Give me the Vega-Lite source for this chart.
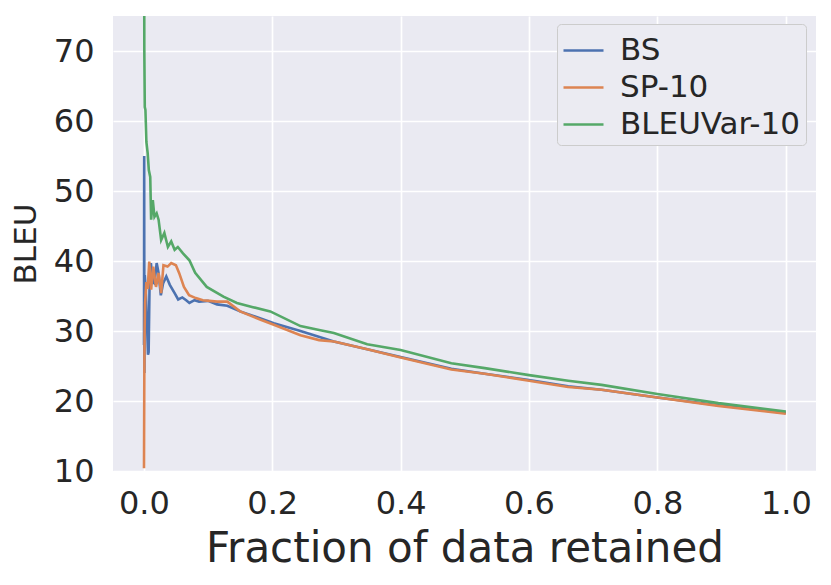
{
  "$schema": "https://vega.github.io/schema/vega-lite/v6.json",
  "width": 703,
  "height": 455,
  "autosize": "none",
  "padding": {"left": 113, "top": 16, "right": 15, "bottom": 114},
  "background": "white",
  "config": {
    "font": "DejaVu Sans",
    "view": {"fill": "#eaeaf2", "stroke": null},
    "axis": {
      "grid": true,
      "gridColor": "white",
      "gridWidth": 1.7,
      "domain": false,
      "ticks": false,
      "labelFont": "DejaVu Sans",
      "labelFontSize": 32,
      "labelColor": "#262626",
      "titleFont": "DejaVu Sans",
      "titleFontWeight": "normal",
      "titleColor": "#262626"
    },
    "legend": {
      "labelFont": "DejaVu Sans",
      "labelFontSize": 31,
      "labelColor": "#262626",
      "labelLimit": 400
    }
  },
  "data": {
    "values": [
      {"method": "BS", "fraction": 0.0003, "bleu": 28},
      {"method": "BS", "fraction": 0.0006, "bleu": 55},
      {"method": "BS", "fraction": 0.0009, "bleu": 24},
      {"method": "BS", "fraction": 0.0015, "bleu": 38},
      {"method": "BS", "fraction": 0.003, "bleu": 36},
      {"method": "BS", "fraction": 0.005, "bleu": 31},
      {"method": "BS", "fraction": 0.0065, "bleu": 26.6},
      {"method": "BS", "fraction": 0.0075, "bleu": 27},
      {"method": "BS", "fraction": 0.009, "bleu": 37},
      {"method": "BS", "fraction": 0.011, "bleu": 39.7},
      {"method": "BS", "fraction": 0.014, "bleu": 37},
      {"method": "BS", "fraction": 0.0166, "bleu": 36.8},
      {"method": "BS", "fraction": 0.02, "bleu": 39.7},
      {"method": "BS", "fraction": 0.023, "bleu": 38.3},
      {"method": "BS", "fraction": 0.0265, "bleu": 35.1},
      {"method": "BS", "fraction": 0.03, "bleu": 36.8},
      {"method": "BS", "fraction": 0.035, "bleu": 37.8},
      {"method": "BS", "fraction": 0.0405, "bleu": 36.6},
      {"method": "BS", "fraction": 0.048, "bleu": 35.4},
      {"method": "BS", "fraction": 0.0535, "bleu": 34.5},
      {"method": "BS", "fraction": 0.06, "bleu": 34.8},
      {"method": "BS", "fraction": 0.066, "bleu": 34.4},
      {"method": "BS", "fraction": 0.071, "bleu": 34},
      {"method": "BS", "fraction": 0.079, "bleu": 34.4},
      {"method": "BS", "fraction": 0.086, "bleu": 34.2},
      {"method": "BS", "fraction": 0.1, "bleu": 34.3},
      {"method": "BS", "fraction": 0.114, "bleu": 33.8},
      {"method": "BS", "fraction": 0.13, "bleu": 33.6},
      {"method": "BS", "fraction": 0.15, "bleu": 32.8},
      {"method": "BS", "fraction": 0.182, "bleu": 31.8},
      {"method": "BS", "fraction": 0.2025, "bleu": 31.1},
      {"method": "BS", "fraction": 0.244, "bleu": 30.0},
      {"method": "BS", "fraction": 0.296, "bleu": 28.5},
      {"method": "BS", "fraction": 0.348, "bleu": 27.4},
      {"method": "BS", "fraction": 0.4, "bleu": 26.3},
      {"method": "BS", "fraction": 0.479, "bleu": 24.6},
      {"method": "BS", "fraction": 0.531, "bleu": 23.9},
      {"method": "BS", "fraction": 0.6, "bleu": 23.0},
      {"method": "BS", "fraction": 0.661, "bleu": 22.1},
      {"method": "BS", "fraction": 0.713, "bleu": 21.6},
      {"method": "BS", "fraction": 0.8, "bleu": 20.5},
      {"method": "BS", "fraction": 0.895, "bleu": 19.4},
      {"method": "BS", "fraction": 1.0, "bleu": 18.3},
      {"method": "SP-10", "fraction": 0.0003, "bleu": 10.4},
      {"method": "SP-10", "fraction": 0.0008, "bleu": 24},
      {"method": "SP-10", "fraction": 0.0012, "bleu": 30},
      {"method": "SP-10", "fraction": 0.002, "bleu": 34},
      {"method": "SP-10", "fraction": 0.004, "bleu": 37},
      {"method": "SP-10", "fraction": 0.006, "bleu": 36},
      {"method": "SP-10", "fraction": 0.0085, "bleu": 39.9},
      {"method": "SP-10", "fraction": 0.0114, "bleu": 35.9},
      {"method": "SP-10", "fraction": 0.0146, "bleu": 39.2},
      {"method": "SP-10", "fraction": 0.019, "bleu": 36.3},
      {"method": "SP-10", "fraction": 0.023, "bleu": 38.3},
      {"method": "SP-10", "fraction": 0.027, "bleu": 35.4},
      {"method": "SP-10", "fraction": 0.0306, "bleu": 39.4},
      {"method": "SP-10", "fraction": 0.037, "bleu": 39.2},
      {"method": "SP-10", "fraction": 0.0427, "bleu": 39.7},
      {"method": "SP-10", "fraction": 0.05, "bleu": 39.4},
      {"method": "SP-10", "fraction": 0.055, "bleu": 38.3},
      {"method": "SP-10", "fraction": 0.0625, "bleu": 36.3},
      {"method": "SP-10", "fraction": 0.0705, "bleu": 35.1},
      {"method": "SP-10", "fraction": 0.081, "bleu": 34.7},
      {"method": "SP-10", "fraction": 0.092, "bleu": 34.4},
      {"method": "SP-10", "fraction": 0.102, "bleu": 34.3},
      {"method": "SP-10", "fraction": 0.114, "bleu": 34.2},
      {"method": "SP-10", "fraction": 0.13, "bleu": 34.2},
      {"method": "SP-10", "fraction": 0.15, "bleu": 32.8},
      {"method": "SP-10", "fraction": 0.182, "bleu": 31.6},
      {"method": "SP-10", "fraction": 0.2025, "bleu": 30.9},
      {"method": "SP-10", "fraction": 0.244, "bleu": 29.4},
      {"method": "SP-10", "fraction": 0.273, "bleu": 28.7},
      {"method": "SP-10", "fraction": 0.296, "bleu": 28.5},
      {"method": "SP-10", "fraction": 0.348, "bleu": 27.4},
      {"method": "SP-10", "fraction": 0.4, "bleu": 26.2},
      {"method": "SP-10", "fraction": 0.479, "bleu": 24.5},
      {"method": "SP-10", "fraction": 0.531, "bleu": 23.9},
      {"method": "SP-10", "fraction": 0.6, "bleu": 22.9},
      {"method": "SP-10", "fraction": 0.661, "bleu": 22.0},
      {"method": "SP-10", "fraction": 0.713, "bleu": 21.6},
      {"method": "SP-10", "fraction": 0.8, "bleu": 20.5},
      {"method": "SP-10", "fraction": 0.895, "bleu": 19.3},
      {"method": "SP-10", "fraction": 1.0, "bleu": 18.2},
      {"method": "BLEUVar-10", "fraction": 0.0003, "bleu": 100},
      {"method": "BLEUVar-10", "fraction": 0.0008, "bleu": 70},
      {"method": "BLEUVar-10", "fraction": 0.0015, "bleu": 62},
      {"method": "BLEUVar-10", "fraction": 0.0025, "bleu": 61.6},
      {"method": "BLEUVar-10", "fraction": 0.004, "bleu": 57},
      {"method": "BLEUVar-10", "fraction": 0.006, "bleu": 55.4},
      {"method": "BLEUVar-10", "fraction": 0.0078, "bleu": 53},
      {"method": "BLEUVar-10", "fraction": 0.01, "bleu": 52},
      {"method": "BLEUVar-10", "fraction": 0.0114, "bleu": 45.9},
      {"method": "BLEUVar-10", "fraction": 0.014, "bleu": 48.7},
      {"method": "BLEUVar-10", "fraction": 0.0166, "bleu": 46.3},
      {"method": "BLEUVar-10", "fraction": 0.02, "bleu": 46.8},
      {"method": "BLEUVar-10", "fraction": 0.023, "bleu": 45.9},
      {"method": "BLEUVar-10", "fraction": 0.027, "bleu": 43},
      {"method": "BLEUVar-10", "fraction": 0.032, "bleu": 44},
      {"method": "BLEUVar-10", "fraction": 0.0375, "bleu": 42},
      {"method": "BLEUVar-10", "fraction": 0.0427, "bleu": 42.8},
      {"method": "BLEUVar-10", "fraction": 0.048, "bleu": 41.6},
      {"method": "BLEUVar-10", "fraction": 0.053, "bleu": 42},
      {"method": "BLEUVar-10", "fraction": 0.061, "bleu": 41.1},
      {"method": "BLEUVar-10", "fraction": 0.071, "bleu": 40.1},
      {"method": "BLEUVar-10", "fraction": 0.08, "bleu": 38.3},
      {"method": "BLEUVar-10", "fraction": 0.098, "bleu": 36.3},
      {"method": "BLEUVar-10", "fraction": 0.124, "bleu": 34.9},
      {"method": "BLEUVar-10", "fraction": 0.145, "bleu": 34},
      {"method": "BLEUVar-10", "fraction": 0.17, "bleu": 33.4},
      {"method": "BLEUVar-10", "fraction": 0.197, "bleu": 32.8},
      {"method": "BLEUVar-10", "fraction": 0.244, "bleu": 30.7},
      {"method": "BLEUVar-10", "fraction": 0.275, "bleu": 30.1},
      {"method": "BLEUVar-10", "fraction": 0.296, "bleu": 29.7},
      {"method": "BLEUVar-10", "fraction": 0.348, "bleu": 28.1},
      {"method": "BLEUVar-10", "fraction": 0.4, "bleu": 27.3},
      {"method": "BLEUVar-10", "fraction": 0.479, "bleu": 25.4},
      {"method": "BLEUVar-10", "fraction": 0.531, "bleu": 24.7},
      {"method": "BLEUVar-10", "fraction": 0.6, "bleu": 23.7},
      {"method": "BLEUVar-10", "fraction": 0.661, "bleu": 22.9},
      {"method": "BLEUVar-10", "fraction": 0.713, "bleu": 22.3},
      {"method": "BLEUVar-10", "fraction": 0.8, "bleu": 21.0},
      {"method": "BLEUVar-10", "fraction": 0.895, "bleu": 19.7},
      {"method": "BLEUVar-10", "fraction": 1.0, "bleu": 18.5}
    ]
  },
  "mark": {"type": "line", "clip": true, "strokeWidth": 2.6},
  "encoding": {
    "x": {
      "field": "fraction",
      "type": "quantitative",
      "scale": {"domain": [-0.048, 1.047], "nice": false, "zero": false},
      "axis": {
        "values": [0, 0.2, 0.4, 0.6, 0.8, 1.0],
        "format": ".1f",
        "labelPadding": 17,
        "title": "Fraction of data retained",
        "titleFontSize": 42,
        "titlePadding": 9
      }
    },
    "y": {
      "field": "bleu",
      "type": "quantitative",
      "scale": {"domain": [10, 75], "nice": false, "zero": false},
      "axis": {
        "values": [10, 20, 30, 40, 50, 60, 70],
        "format": "d",
        "labelPadding": 19,
        "title": "BLEU",
        "titleFontSize": 31,
        "titlePadding": 11
      }
    },
    "color": {
      "field": "method",
      "type": "nominal",
      "sort": ["BS", "SP-10", "BLEUVar-10"],
      "scale": {
        "domain": ["BS", "SP-10", "BLEUVar-10"],
        "range": ["#4c72b0", "#dd8452", "#55a868"]
      },
      "legend": {
        "title": null,
        "orient": "none",
        "legendX": 444,
        "legendY": 8,
        "symbolType": "stroke",
        "symbolSize": 1600,
        "symbolStrokeWidth": 2.5,
        "labelOffset": 15,
        "rowPadding": 0,
        "padding": 5,
        "fillColor": "#ebebf2",
        "strokeColor": "#cccccc",
        "cornerRadius": 4
      }
    }
  }
}
